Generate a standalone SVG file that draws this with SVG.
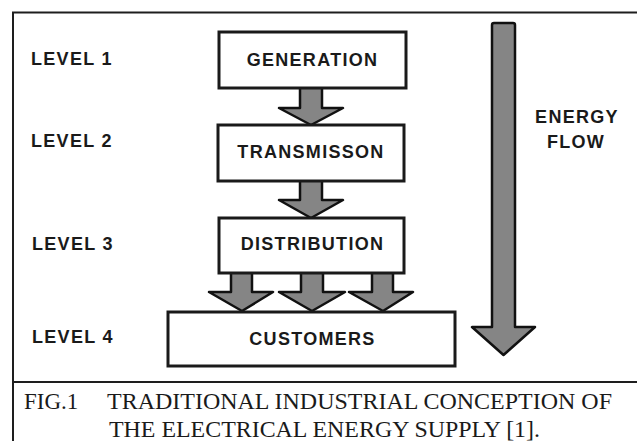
<svg xmlns="http://www.w3.org/2000/svg" width="637" height="441" viewBox="0 0 637 441">
<defs>
<style>
.frame{stroke:#1e1e1e;stroke-width:2;fill:none}
.box{fill:#fff;stroke:#1a1a1a;stroke-width:3}
.arr{fill:#858585;stroke:#111;stroke-width:2.5;stroke-linejoin:round}
.lbl{font-family:"Liberation Sans",Arial,sans-serif;font-weight:bold;font-size:18px;letter-spacing:1.3px;fill:#1a1a1a}
.cap{font-family:"Liberation Serif","Times New Roman",serif;font-size:23px;fill:#1a1a1a}
</style>
</defs>
<rect width="637" height="441" fill="#fff"/>
<g id="frame">
<path class="frame" d="M13,441 V12.5 H637"/>
<path class="frame" d="M13,382 H637"/>
</g>
<g id="levels">
<text class="lbl" x="31" y="65">LEVEL 1</text>
<text class="lbl" x="31" y="147">LEVEL 2</text>
<text class="lbl" x="32" y="250">LEVEL 3</text>
<text class="lbl" x="32" y="343">LEVEL 4</text>
</g>
<g id="connectors">
<path class="arr" d="M300,88 V108 H279 L311,125 L343,108 H322 V88"/>
<path class="arr" d="M300,181 V200 H279 L311,218 L343,200 H322 V181"/>
<path class="arr" d="M231,273 V292 H209 L242,311 L273,292 H252 V273"/>
<path class="arr" d="M301,273 V292 H279 L312,311 L345,292 H323 V273"/>
<path class="arr" d="M372,273 V292 H349 L383,311 L413,292 H393 V273"/>
</g>
<g id="energy-flow">
<path class="arr" d="M492,327 V25 Q492,23 494,23 H513 Q515,23 515,25 V327 H535 L503.5,355 L472,327 Z"/>
<text class="lbl" x="577" y="123" text-anchor="middle">ENERGY</text>
<text class="lbl" x="576" y="148" text-anchor="middle">FLOW</text>
</g>
<g id="generation">
<rect class="box" x="219" y="32" width="187" height="56"/>
<text class="lbl" x="312.5" y="66" text-anchor="middle">GENERATION</text>
</g>
<g id="transmission">
<rect class="box" x="218" y="125" width="186" height="56"/>
<text class="lbl" x="311" y="158" text-anchor="middle">TRANSMISSON</text>
</g>
<g id="distribution">
<rect class="box" x="219" y="218" width="185" height="55"/>
<text class="lbl" x="312.5" y="250" text-anchor="middle">DISTRIBUTION</text>
</g>
<g id="customers">
<rect class="box" x="168" y="312" width="287" height="54"/>
<text class="lbl" x="312.5" y="345" text-anchor="middle">CUSTOMERS</text>
</g>
<g id="caption">
<text class="cap" x="24" y="409">FIG.1</text>
<text class="cap" x="107" y="409" textLength="505" lengthAdjust="spacingAndGlyphs">TRADITIONAL INDUSTRIAL CONCEPTION OF</text>
<text class="cap" x="109" y="437" textLength="431" lengthAdjust="spacingAndGlyphs">THE ELECTRICAL ENERGY SUPPLY [1].</text>
</g>
</svg>
